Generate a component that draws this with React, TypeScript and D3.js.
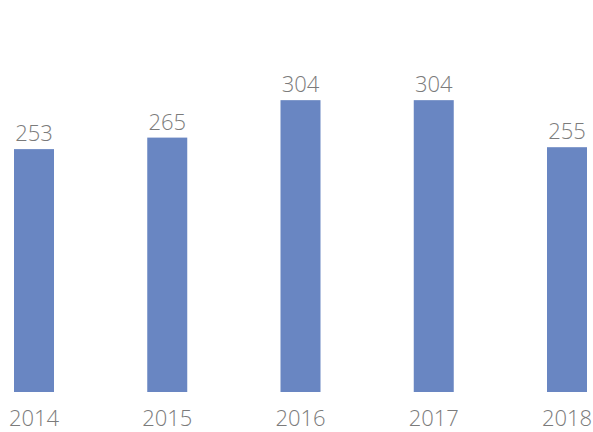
import * as d3 from 'd3';
import React from 'react';

const years = ['2014', '2015', '2016', '2017', '2018'];
const values = [253, 265, 304, 304, 255];

const W = 593, H = 432;
const barColor = '#6986c2';
const textColor = '#7b7b7b';
const font = "'Open Sans', 'DejaVu Sans', sans-serif";

const App = () => {
    const x = d3.scalePoint<string>()
        .domain(years)
        .range([34, 567]);

    const y = d3.scaleLinear()
        .domain([0, 400])
        .range([392, 8]);

    const barWidth = 40;

    return <svg width={W} height={H} style={{ position: 'absolute', left: 0, top: 0, background: '#fff' }}>
        {values.map((v, i) => {
            const cx = x(years[i]) as number;
            return <g key={years[i]}>
                <rect x={cx - barWidth / 2} y={y(v)} width={barWidth} height={y(0) - y(v)} fill={barColor} />
                <text x={cx} y={y(v) - 8} textAnchor="middle" fill={textColor}
                    style={{ fontFamily: font, fontSize: 22, fontWeight: 300 }}>{v}</text>
            </g>;
        })}
        {years.map(yr =>
            <text key={yr} x={x(yr) as number} y={426} textAnchor="middle" fill={textColor}
                style={{ fontFamily: font, fontSize: 22, fontWeight: 300 }}>{yr}</text>
        )}
    </svg>;
}
export default App;
